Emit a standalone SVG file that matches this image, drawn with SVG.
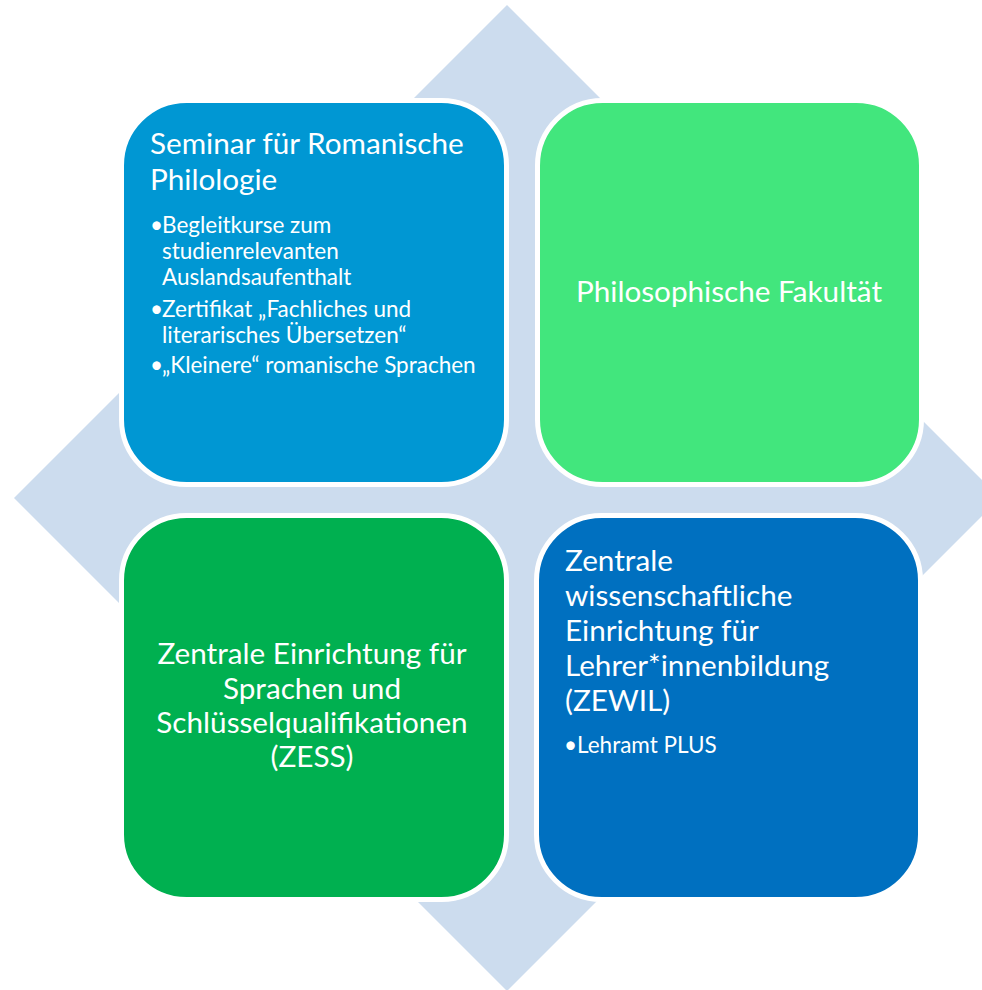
<svg xmlns="http://www.w3.org/2000/svg" width="982" height="990" viewBox="0 0 982 990">
<style>
.box{stroke:#FFFFFF;stroke-width:5}
.t{font-family:Lato,"Open Sans","Liberation Sans",sans-serif;fill:#FFFFFF}
.h{font-size:29.7px}
.b{font-size:22.5px}
.c{text-anchor:middle}
</style>
<rect width="982" height="990" fill="#FFFFFF"/>
<g id="background">
<polygon points="507,5 1000,498 507,991 14,498" fill="#CCDCEE"/>
</g>
<g id="connectors"></g>
<g id="node-seminar">
<rect class="box" x="121.5" y="100.5" width="385" height="384" rx="65" fill="#0097D3"/>
<text class="t h" x="150" y="154">Seminar für Romanische</text>
<text class="t h" x="150" y="190">Philologie</text>
<text class="t b" y="233"><tspan x="150">•</tspan><tspan x="162">Begleitkurse zum</tspan></text>
<text class="t b" x="162" y="259">studienrelevanten</text>
<text class="t b" x="162" y="285">Auslandsaufenthalt</text>
<text class="t b" y="317"><tspan x="150">•</tspan><tspan x="162">Zertifikat „Fachliches und</tspan></text>
<text class="t b" x="162" y="343">literarisches Übersetzen“</text>
<text class="t b" y="373"><tspan x="150">•</tspan><tspan x="162">„Kleinere“ romanische Sprachen</tspan></text>
</g>
<g id="node-philfak">
<rect class="box" x="537.5" y="100.5" width="384" height="384" rx="65" fill="#42E67D"/>
<text class="t h c" x="729" y="302">Philosophische Fakultät</text>
</g>
<g id="node-zess">
<rect class="box" x="121.5" y="515.5" width="385" height="384" rx="65" fill="#00B050"/>
<text class="t h c" x="312" y="664">Zentrale Einrichtung für</text>
<text class="t h c" x="312" y="699">Sprachen und</text>
<text class="t h c" x="312" y="733">Schlüsselqualifikationen</text>
<text class="t h c" x="312" y="767">(ZESS)</text>
</g>
<g id="node-zewil">
<rect class="box" x="536.5" y="515.5" width="384" height="384" rx="65" fill="#0070C0"/>
<text class="t h" x="565" y="571">Zentrale</text>
<text class="t h" x="565" y="606">wissenschaftliche</text>
<text class="t h" x="565" y="641">Einrichtung für</text>
<text class="t h" x="565" y="676">Lehrer*innenbildung</text>
<text class="t h" x="565" y="711">(ZEWIL)</text>
<text class="t b" y="753"><tspan x="564">•</tspan><tspan x="577">Lehramt PLUS</tspan></text>
</g>
</svg>
